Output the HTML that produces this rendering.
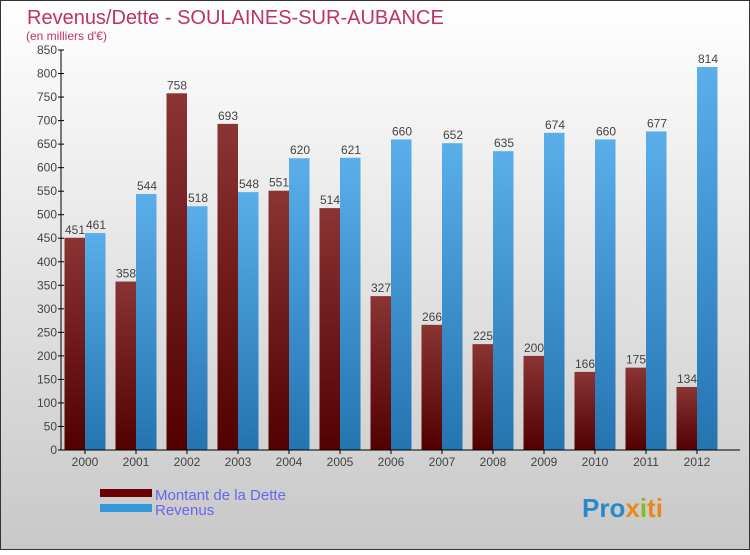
<!DOCTYPE html>
<html><head><meta charset="utf-8"><style>
body{margin:0}
#c{width:750px;height:550px;position:relative;font-family:"Liberation Sans",sans-serif}
</style></head><body>
<div id="c">
<svg width="750" height="550" id="svg">
<defs>
<linearGradient id="bg" x1="0" y1="0" x2="0" y2="1"><stop offset="0" stop-color="#ffffff"/><stop offset="1" stop-color="#c8c8c8"/></linearGradient>
<linearGradient id="gr" x1="0" y1="0" x2="0" y2="1"><stop offset="0" stop-color="#8a3434"/><stop offset="1" stop-color="#520000"/></linearGradient>
<linearGradient id="gb" x1="0" y1="0" x2="0" y2="1"><stop offset="0" stop-color="#5aaeea"/><stop offset="1" stop-color="#2474b0"/></linearGradient>
</defs>
<rect x="0.5" y="0.5" width="749" height="549" fill="url(#bg)" stroke="#333"/>
<text x="27" y="24" font-size="20" fill="#c0306a">Revenus/Dette - SOULAINES-SUR-AUBANCE</text>
<text x="26" y="40" font-size="12" fill="#c0306a">(en milliers d'€)</text>
<g id="plot"></g>
<rect x="100" y="489" width="52" height="8" fill="#6a0000"/>
<rect x="100" y="504" width="52" height="8" fill="#3399dd"/>
<text x="155" y="500" font-size="15" fill="#6666ee">Montant de la Dette</text>
<text x="155" y="515" font-size="15" fill="#6666ee">Revenus</text>
<text x="582" y="517" font-size="26" font-weight="bold" fill="#3399dd"><tspan fill="#2a88cc">Pro</tspan><tspan fill="#e88a1a">x</tspan><tspan fill="#88bb22">i</tspan><tspan fill="#e88a1a">ti</tspan></text>
</svg>
</div>
<script>
const years=["2000","2001","2002","2003","2004","2005","2006","2007","2008","2009","2010","2011","2012"];
const dette=[451,358,758,693,551,514,327,266,225,200,166,175,134];
const revenus=[461,544,518,548,620,621,660,652,635,674,660,677,814];
const ticks=[0,50,100,150,200,250,300,350,400,450,500,550,600,650,700,750,800,850];
const NS="http://www.w3.org/2000/svg";
const g=document.getElementById('plot');
const x0=61,x1=740,yTop=50,yBot=450,vmax=850;
const y=v=>yBot-(v/vmax)*(yBot-yTop);
const gw=51;
const cx=i=>85+gw*i;
function mk(t,a){const e=document.createElementNS(NS,t);for(const k in a)e.setAttribute(k,a[k]);g.appendChild(e);return e;}
ticks.forEach(t=>{
 const l=mk('line',{x1:x0-3,x2:x0+3,y1:y(t),y2:y(t),stroke:'#000'});
 
 
 const tx=mk('text',{x:x0-4,y:y(t)+4,'font-size':12,'text-anchor':'end',fill:'#444'});
 tx.textContent=t;
 
 
});
years.forEach((yr,i)=>{
 const c=cx(i);
 const r=mk('rect',{x:c-20.5,y:y(dette[i]),width:20.5,height:yBot-y(dette[i]),fill:'url(#gr)'});
 
 
 const b=mk('rect',{x:c,y:y(revenus[i]),width:20.5,height:yBot-y(revenus[i]),fill:'url(#gb)'});
 
 
 const t1=mk('text',{x:c-10,y:y(dette[i])-4,'font-size':12,'text-anchor':'middle',fill:'#444'});
 t1.textContent=dette[i];
 
 
 const t2=mk('text',{x:c+11,y:y(revenus[i])-4,'font-size':12,'text-anchor':'middle',fill:'#444'});
 t2.textContent=revenus[i];
 
 
 const tk=mk('line',{x1:c,x2:c,y1:yBot,y2:yBot+4,stroke:'#000'});
 
 
 const xl=mk('text',{x:c,y:yBot+16,'font-size':12,'text-anchor':'middle',fill:'#444'});
 xl.textContent=yr;
 
 
});
const ax=mk('line',{x1:x0,x2:x0,y1:yTop,y2:yBot,stroke:'#000'});


const axx=mk('line',{x1:x0,x2:x1,y1:yBot,y2:yBot,stroke:'#000'});


</script>
</body></html>
